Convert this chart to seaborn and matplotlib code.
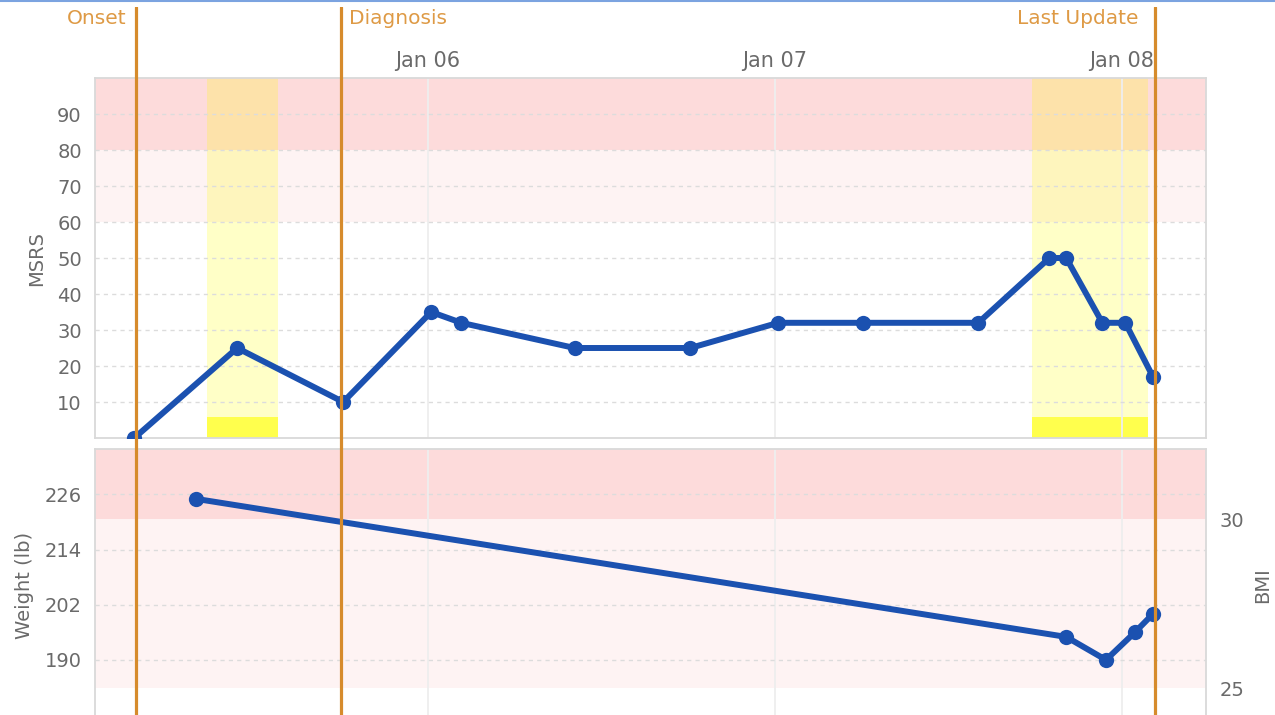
import pandas as pd
import matplotlib.pyplot as plt
import matplotlib.dates as mdates
from matplotlib.lines import Line2D
import seaborn as sns

# MSRS scores over time
msrs_times = ["2015-01-05 03:43", "2015-01-05 10:50", "2015-01-05 18:10", "2015-01-06 00:15",
              "2015-01-06 02:20", "2015-01-06 10:10", "2015-01-06 18:10", "2015-01-07 00:15",
              "2015-01-07 06:05", "2015-01-07 14:05", "2015-01-07 19:00", "2015-01-07 20:10",
              "2015-01-07 22:40", "2015-01-08 00:15", "2015-01-08 02:10"]
msrs_values = [0, 25, 10, 35, 32, 25, 25, 32, 32, 32, 50, 50, 32, 32, 17]

# weight readings (lb)
weight_times = ["2015-01-05 08:00", "2015-01-07 20:10", "2015-01-07 22:55",
                "2015-01-08 00:55", "2015-01-08 02:10"]
weight_values = [225, 195, 190, 196, 200]

# events marked across both panels
event_names = ["Onset", "Diagnosis", "Last Update"]
event_times = ["2015-01-05 03:52", "2015-01-05 18:00", "2015-01-08 02:17"]

# highlighted periods
flag_starts = ["2015-01-05 08:45", "2015-01-07 17:50"]
flag_ends = ["2015-01-05 13:40", "2015-01-08 01:50"]

day_ticks = ["2015-01-06", "2015-01-07", "2015-01-08"]
msrs_ticks = [10, 20, 30, 40, 50, 60, 70, 80, 90]
weight_ticks = [190, 202, 214, 226]
bmi_ticks = [25, 30]
height_in = 71.9

x_range = ["2015-01-05 01:00", "2015-01-08 05:50"]

BLUE = "#1B51B0"
ORANGE = "#D68B2C"
ORANGE_TXT = "#DE9A45"
GREY = "#6A6A6A"
RED_BAND = "#FDDBDB"
PINK_BAND = "#FEF3F3"
BORDER = "#D9D9D9"


def to_bmi(w):
    return w * 703 / height_in ** 2


def from_bmi(b):
    return b * height_in ** 2 / 703


sns.set_style("white")
plt.rcParams["font.family"] = ["DejaVu Sans"]

W, H = 1275, 715
fig = plt.figure(figsize=(W / 100, H / 100), dpi=100)

left, right = 95, 1206
ax1 = fig.add_axes([left / W, 1 - 438 / H, (right - left) / W, 360 / H])
ax2 = fig.add_axes([left / W, 1 - 722 / H, (right - left) / W, 273 / H])

xlim = pd.to_datetime(x_range)
days = pd.to_datetime(day_ticks)

msrs = pd.DataFrame({"time": pd.to_datetime(msrs_times), "MSRS": msrs_values})
weight = pd.DataFrame({"time": pd.to_datetime(weight_times), "weight": weight_values})

# ---- top panel: MSRS ----
ax1.axhspan(80, 100, color=RED_BAND, zorder=0.1, lw=0)
ax1.axhspan(60, 80, color=PINK_BAND, zorder=0.1, lw=0)
for s, e in zip(pd.to_datetime(flag_starts), pd.to_datetime(flag_ends)):
    ax1.axvspan(s, e, color="#FFFF00", alpha=0.22, zorder=0.2, lw=0)
    ax1.axvspan(s, e, ymin=0, ymax=0.058, color="#FFFF4D", zorder=0.3, lw=0)

sns.lineplot(data=msrs, x="time", y="MSRS", ax=ax1, color=BLUE, linewidth=4.3,
             marker="o", markersize=11, markeredgewidth=0, zorder=3)
ax1.set_xlim(xlim)
ax1.set_ylim(0, 100)
ax1.set_yticks(msrs_ticks)
ax1.set_xticks(days)
ax1.xaxis.set_major_formatter(mdates.DateFormatter("%b %d"))
ax1.xaxis.tick_top()
ax1.tick_params(axis="x", length=0, pad=5, labelsize=15, labelcolor=GREY)
ax1.tick_params(axis="y", length=0, pad=9.5, labelsize=14, labelcolor=GREY)
ax1.set_xlabel("")
ax1.set_ylabel("MSRS", fontsize=14, color=GREY, labelpad=8)

# ---- bottom panel: weight / BMI ----
w_lo, w_hi = 176.5, 235.85
ax2.axhspan(from_bmi(30), w_hi + 10, color=RED_BAND, zorder=0.1, lw=0)
ax2.axhspan(from_bmi(25), from_bmi(30), color=PINK_BAND, zorder=0.1, lw=0)
sns.lineplot(data=weight, x="time", y="weight", ax=ax2, color=BLUE, linewidth=4.3,
             marker="o", markersize=11, markeredgewidth=0, zorder=3)
ax2.set_xlim(xlim)
ax2.set_ylim(w_lo, w_hi)
ax2.set_yticks(weight_ticks)
ax2.set_xticks(days)
ax2.tick_params(axis="x", length=0, labelbottom=False)
ax2.tick_params(axis="y", length=0, pad=9.5, labelsize=14, labelcolor=GREY)
ax2.set_xlabel("")
ax2.set_ylabel("Weight (lb)", fontsize=14, color=GREY, labelpad=8)

bmi = ax2.twinx()
bmi.set_ylim(to_bmi(w_lo), to_bmi(w_hi))
bmi.set_yticks(bmi_ticks)
bmi.tick_params(axis="y", length=0, pad=10, labelsize=14, labelcolor=GREY)
bmi.set_ylabel("BMI", fontsize=14, color=GREY, labelpad=6)
for sp in bmi.spines.values():
    sp.set_visible(False)

for ax in (ax1, ax2):
    ax.grid(axis="y", linestyle=(0, (3, 3)), color="#DCDCDC", lw=1)
    ax.grid(axis="x", linestyle="-", color="#EEEEEE", lw=1.3)
    for sp in ax.spines.values():
        sp.set_visible(True)
        sp.set_color(BORDER)
        sp.set_linewidth(1.3)

# ---- event lines spanning the whole figure ----
ev = fig.add_axes([left / W, -0.05, (right - left) / W, (1 - 7 / H) + 0.05])
ev.set_xlim(mdates.date2num(xlim))
ev.set_ylim(0, 1)
ev.axis("off")
ev.patch.set_alpha(0)
offsets = {"Onset": (-7, "right"), "Diagnosis": (6, "left"), "Last Update": (-12, "right")}
for name, t in zip(event_names, mdates.date2num(pd.to_datetime(event_times))):
    ev.axvline(t, color=ORANGE, lw=2.3)
    dx, ha = offsets[name]
    ev.annotate(name, xy=(t, 1), xycoords=ev.get_xaxis_transform(),
                xytext=(dx, -8.6), textcoords="offset points",
                ha=ha, va="center", fontsize=14.5, color=ORANGE_TXT)

fig.add_artist(Line2D([0, 1], [1 - 0.7 / H, 1 - 0.7 / H], transform=fig.transFigure,
                      color="#7BA3E0", lw=1.5))

plt.savefig("out.png", dpi=100)
